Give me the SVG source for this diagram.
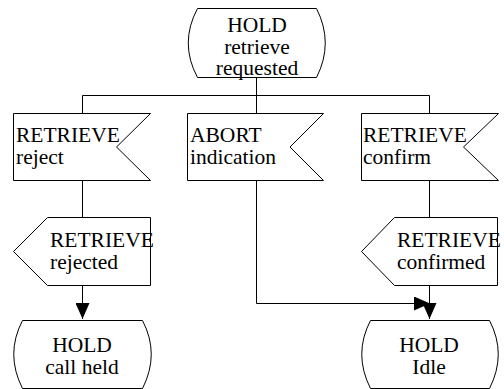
<svg xmlns="http://www.w3.org/2000/svg" width="504" height="389" viewBox="0 0 504 389">
<defs>
<marker id="ah" viewBox="0 0 16 14" refX="16" refY="7" markerWidth="16" markerHeight="14" markerUnits="userSpaceOnUse" orient="auto">
<path d="M0,0 L16,7 L0,14 Z" fill="#000"/>
</marker>
</defs>
<style>
.s{fill:#fff;stroke:#000;stroke-width:1}
.c{fill:none;stroke:#000;stroke-width:1}
text{font-family:"Liberation Serif","Times New Roman",serif;font-size:21.5px;fill:#000}
.m{text-anchor:middle}
</style>
<rect width="504" height="389" fill="#fff"/>
<g id="connectors">
<path class="c" d="M256.5,78 V95.5 M82.5,95.5 H429.5 M82.5,95.5 V113 M256.5,95.5 V113 M429.5,95.5 V113"/>
<path class="c" d="M82.5,180 V217"/>
<path class="c" d="M429.5,180 V217"/>
<path class="c" d="M82.5,286 V319" marker-end="url(#ah)"/>
<path class="c" d="M429.5,286 V319" marker-end="url(#ah)"/>
<path class="c" d="M256.5,180 V303.5 H430" marker-end="url(#ah)"/>
</g>
<g id="hold_retrieve_requested">
<path class="s" d="M197.5,8.5 H316.5 Q334,43 316.5,77.5 H197.5 Q179,43 197.5,8.5 Z"/>
<text class="m" x="257" y="32">HOLD</text>
<text class="m" x="257" y="54">retrieve</text>
<text class="m" x="257" y="75">requested</text>
</g>
<g id="retrieve_reject">
<path class="s" d="M13.5,113.5 H150.5 L116.5,147 L150.5,180.5 H13.5 Z"/>
<text x="16" y="142">RETRIEVE</text>
<text x="16" y="164">reject</text>
</g>
<g id="abort_indication">
<path class="s" d="M187.5,113.5 H323.5 L290,147 L323.5,180.5 H187.5 Z"/>
<text x="190" y="142">ABORT</text>
<text x="190" y="164">indication</text>
</g>
<g id="retrieve_confirm">
<path class="s" d="M361.5,113.5 H498.5 L463.5,147 L498.5,180.5 H361.5 Z"/>
<text x="363" y="142">RETRIEVE</text>
<text x="363" y="164">confirm</text>
</g>
<g id="retrieve_rejected">
<path class="s" d="M47.5,217.5 H150.5 V285.5 H47.5 L13.5,251.5 Z"/>
<text x="50" y="247">RETRIEVE</text>
<text x="50" y="269">rejected</text>
</g>
<g id="retrieve_confirmed">
<path class="s" d="M394.5,217.5 H497.5 V285.5 H394.5 L361.5,251.5 Z"/>
<text x="397" y="247">RETRIEVE</text>
<text x="397" y="269">confirmed</text>
</g>
<g id="hold_call_held">
<path class="s" d="M22.5,320.5 H142.5 Q160,354 142.5,388.5 H22.5 Q5,354 22.5,320.5 Z"/>
<text class="m" x="82" y="352">HOLD</text>
<text class="m" x="82" y="374">call held</text>
</g>
<g id="hold_idle">
<path class="s" d="M370.5,320.5 H489.5 Q507,354 489.5,388.5 H370.5 Q353,354 370.5,320.5 Z"/>
<text class="m" x="429" y="352">HOLD</text>
<text class="m" x="429" y="374">Idle</text>
</g>
</svg>
